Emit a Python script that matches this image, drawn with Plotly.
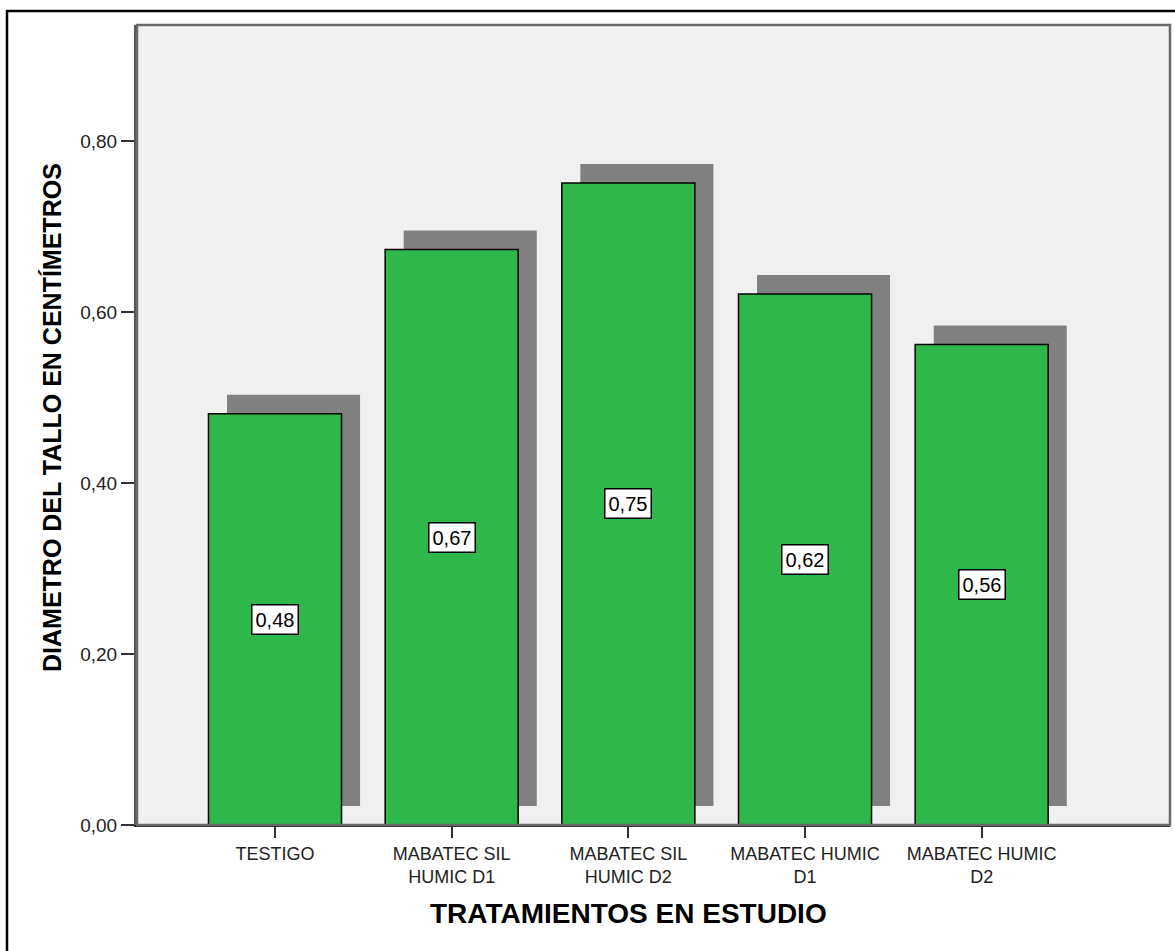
import plotly.graph_objects as go

categories = ["TESTIGO", "MABATEC SIL<br>HUMIC D1", "MABATEC SIL<br>HUMIC D2",
              "MABATEC HUMIC<br>D1", "MABATEC HUMIC<br>D2"]
values = [0.481, 0.673, 0.751, 0.621, 0.562]
y_ticks = [0.0, 0.2, 0.4, 0.6, 0.8]

pos = list(range(len(categories)))
bar_w = 0.753
shadow_dx = 0.105
shadow_dy = 0.0222

fig = go.Figure()
# shadow bars
fig.add_trace(go.Bar(
    x=[p + shadow_dx for p in pos], y=values, base=[shadow_dy] * len(values),
    width=bar_w, marker=dict(color="#808080", line=dict(width=0)),
    hoverinfo="skip", showlegend=False))
# main bars
fig.add_trace(go.Bar(
    x=pos, y=values, width=bar_w,
    marker=dict(color="#2EB84B", line=dict(color="#000000", width=1.5)),
    showlegend=False))

for p, v in zip(pos, values):
    fig.add_annotation(x=p, y=v / 2, xref="x", yref="y",
                       text=f"{v:.2f}".replace(".", ","), showarrow=False,
                       font=dict(family="Liberation Sans", size=20, color="#000000"),
                       bgcolor="#FFFFFF", bordercolor="#000000", borderwidth=1.5,
                       borderpad=3)

# axis titles
fig.add_annotation(x=(pos[0] + pos[-1]) / 2, y=-0.11, xref="x", yref="paper",
                   text="<b>TRATAMIENTOS EN ESTUDIO</b>", showarrow=False,
                   yanchor="middle",
                   font=dict(family="Liberation Sans", size=28, color="#000000"))
fig.add_annotation(x=-0.0823, y=0.51, xref="paper", yref="paper",
                   text="<b>DIAMETRO DEL TALLO EN CENTÍMETROS</b>", showarrow=False,
                   textangle=-90, xanchor="center", yanchor="middle",
                   font=dict(family="Liberation Sans", size=25, color="#000000"))

# outer frame (left/top visible, right/bottom beyond page)
fig.add_shape(type="rect", xref="paper", yref="paper",
              x0=(7 - 137) / 1033, x1=(1190 - 137) / 1033,
              y0=(825 - 970) / 800, y1=(825 - 11) / 800,
              line=dict(color="#000000", width=2.5), fillcolor="rgba(0,0,0,0)",
              layer="below")
# plot frame top/right
fig.add_shape(type="rect", xref="paper", yref="paper", x0=0, x1=1, y0=0, y1=1,
              line=dict(color="#6A6A6A", width=2.5), fillcolor="rgba(0,0,0,0)",
              layer="above")

fig.update_layout(
    width=1175, height=951,
    margin=dict(l=137, r=5, t=25, b=126),
    paper_bgcolor="#FFFFFF", plot_bgcolor="#F0F0F0",
    barmode="overlay", separators=",.",
    xaxis=dict(range=[-0.7811, 5.0659], tickmode="array", tickvals=pos,
               ticktext=categories, ticks="outside", ticklen=11, tickwidth=1.5,
               tickcolor="#333333", showgrid=False, zeroline=False,
               showline=True, linecolor="#222222", linewidth=2,
               tickfont=dict(family="Liberation Sans", size=18, color="#222222")),
    yaxis=dict(range=[0, 0.9357], tickmode="array", tickvals=y_ticks,
               tickformat=".2f", ticks="outside", ticklen=13, tickwidth=1.5,
               tickcolor="#333333", showgrid=False, zeroline=False,
               showline=True, linecolor="#555555", linewidth=3,
               tickfont=dict(family="Liberation Sans", size=19, color="#222222")),
)

fig.write_html("out.html")
